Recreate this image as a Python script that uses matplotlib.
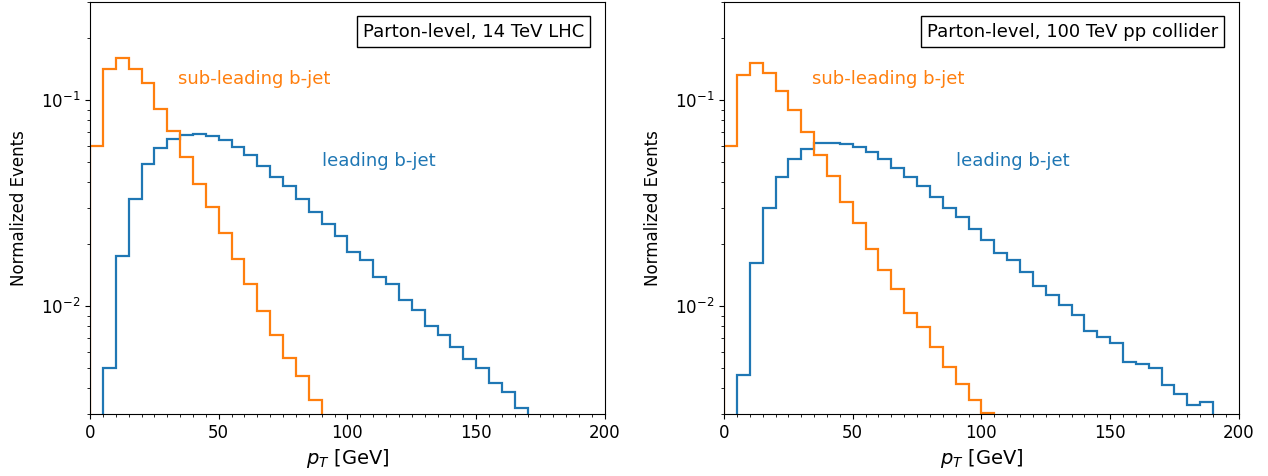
import numpy as np
import matplotlib.pyplot as plt
from matplotlib.offsetbox import AnchoredText
from matplotlib.ticker import MultipleLocator

# bin edges in pT [GeV]
edges = np.arange(0, 205, 5)

# 14 TeV LHC, normalized events per 5 GeV bin
lead_14 = [0, 0.0050, 0.0175, 0.0333, 0.0488, 0.0585, 0.0652, 0.0679, 0.0686, 0.0671,
           0.0640, 0.0593, 0.0542, 0.0482, 0.0425, 0.0384, 0.0333, 0.0288, 0.0252, 0.0219,
           0.0184, 0.0167, 0.0139, 0.0128, 0.0107, 0.00956, 0.00803, 0.00726, 0.00635, 0.00558,
           0.0050, 0.00426, 0.00384, 0.0032, 0, 0, 0, 0, 0, 0]
sub_14 = [0.060, 0.1415, 0.1595, 0.1425, 0.121, 0.0911, 0.071, 0.0531, 0.0391, 0.0303,
          0.0227, 0.0169, 0.0128, 0.0095, 0.0073, 0.0056, 0.0046, 0.0035, 0, 0,
          0, 0, 0, 0, 0, 0, 0, 0, 0, 0,
          0, 0, 0, 0, 0, 0, 0, 0, 0, 0]

# 100 TeV pp collider
lead_100 = [0, 0.00463, 0.0163, 0.0301, 0.0425, 0.0521, 0.0578, 0.0618, 0.0623, 0.0616,
            0.0596, 0.0561, 0.0521, 0.0471, 0.0423, 0.0382, 0.0341, 0.0301, 0.0271, 0.0236,
            0.0211, 0.0182, 0.0168, 0.0147, 0.01256, 0.01136, 0.0101, 0.00904, 0.0076, 0.0071,
            0.00667, 0.00537, 0.00527, 0.00504, 0.00415, 0.00377, 0.00334, 0.00344, 0, 0]
sub_100 = [0.060, 0.1327, 0.1513, 0.1363, 0.111, 0.0894, 0.0702, 0.054, 0.0429, 0.0321,
           0.0254, 0.0190, 0.01507, 0.0122, 0.0093, 0.00796, 0.00637, 0.00507, 0.00421, 0.00352,
           0.00305, 0, 0, 0, 0, 0, 0, 0, 0, 0,
           0, 0, 0, 0, 0, 0, 0, 0, 0, 0]

titles = ["Parton-level, 14 TeV LHC", "Parton-level, 100 TeV pp collider"]

fig = plt.figure(figsize=(12.68, 4.76), dpi=100)
ax1 = fig.add_axes([0.071, 0.130, 0.406, 0.866])
ax2 = fig.add_axes([0.571, 0.130, 0.406, 0.866])

for ax, lead, sub, title in [(ax1, lead_14, sub_14, titles[0]),
                             (ax2, lead_100, sub_100, titles[1])]:
    # empty bins sit below the visible range
    lead = np.where(np.array(lead) > 0, lead, 1e-6)
    sub = np.where(np.array(sub) > 0, sub, 1e-6)
    ax.stairs(lead, edges, baseline=1e-6, color='C0', lw=1.6)
    ax.stairs(sub, edges, baseline=1e-6, color='C1', lw=1.6)
    ax.set_yscale('log')
    ax.set_xlim(0, 200)
    ax.set_ylim(3e-3, 0.3)
    ax.xaxis.set_major_locator(MultipleLocator(50))
    ax.xaxis.set_minor_locator(MultipleLocator(5))
    ax.tick_params(labelsize=12)
    ax.set_xlabel('$p_T$ [GeV]', fontsize=14)
    ax.set_ylabel('Normalized Events', fontsize=12, labelpad=9)
    ax.text(34, 0.127, 'sub-leading b-jet', color='C1', fontsize=13, va='center')
    ax.text(90, 0.0505, 'leading b-jet', color='C0', fontsize=13, va='center')
    at = AnchoredText(title, loc='upper right', prop=dict(size=13),
                      pad=0.35, borderpad=0.8)
    at.patch.set_boxstyle('square,pad=0')
    ax.add_artist(at)

plt.savefig("out.png", dpi=100)
